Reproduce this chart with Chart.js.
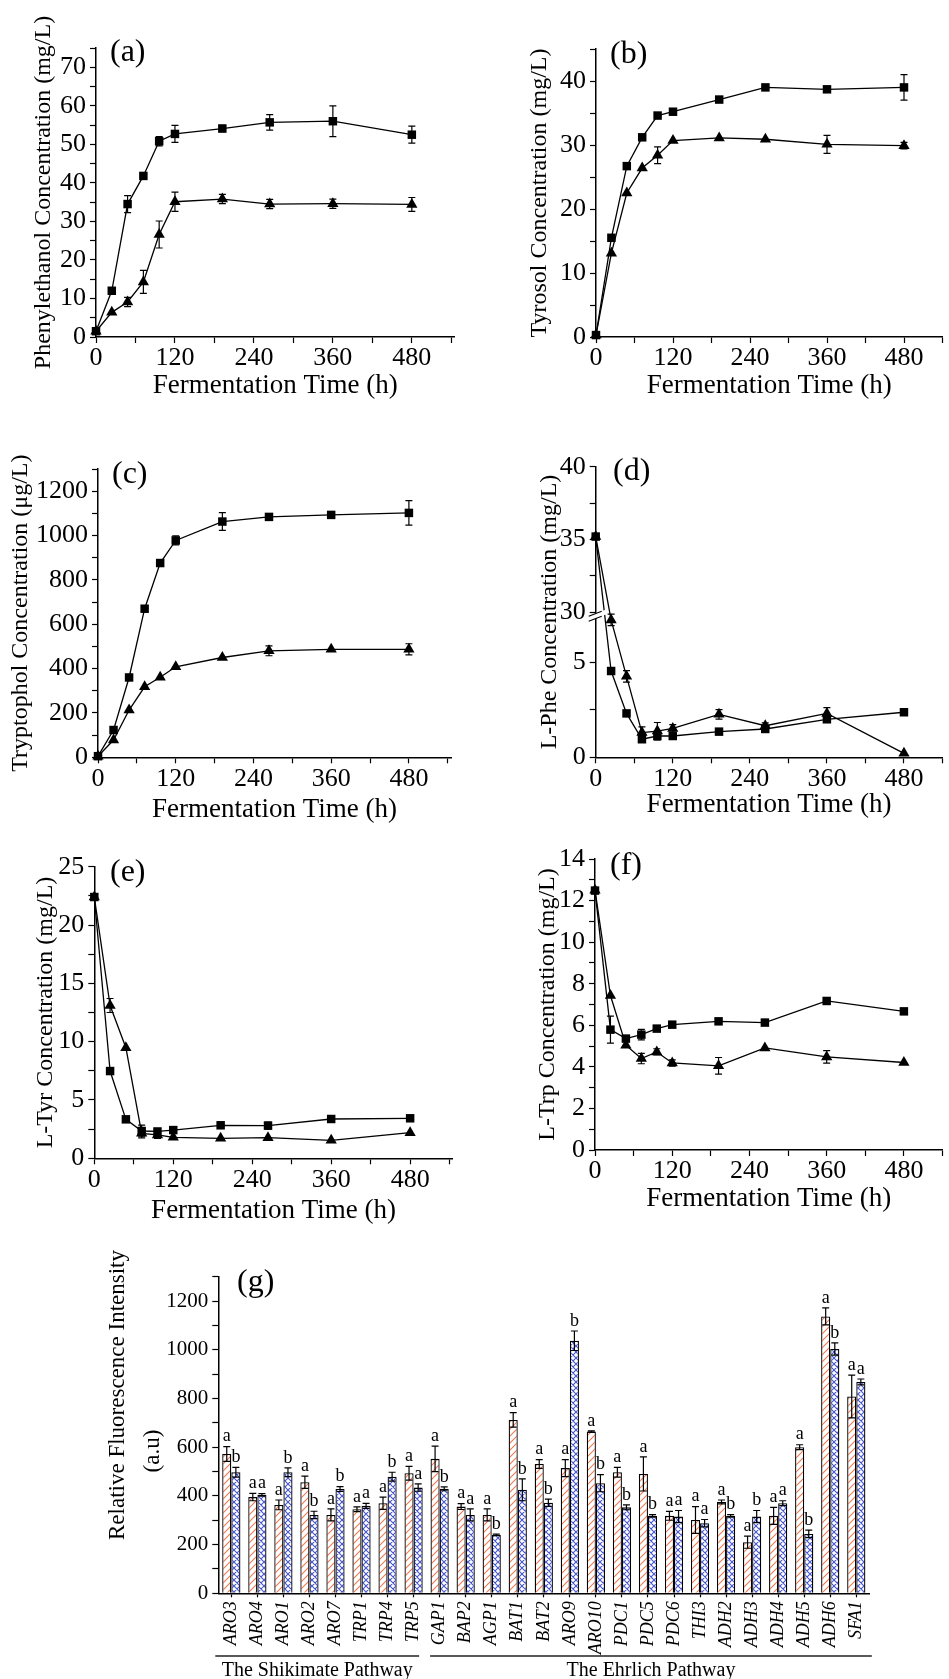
<!DOCTYPE html>
<html>
<head>
<meta charset="utf-8">
<script src="https://cdn.jsdelivr.net/npm/chart.js@4.4.1/dist/chart.umd.min.js"></script>
<style>
body { margin: 0; background: #fff; }
#wrap { position: relative; width: 949px; height: 1679px; overflow: hidden; background: #fff; }
canvas { position: absolute; }
</style>
</head>
<body>
<div id="wrap">
  <canvas id="pa"></canvas>
  <canvas id="pb"></canvas>
  <canvas id="pc"></canvas>
  <canvas id="pd"></canvas>
  <canvas id="pe"></canvas>
  <canvas id="pf"></canvas>
  <canvas id="pg"></canvas>
</div>
<script>
const FONT = "'Liberation Serif', 'Times New Roman', Times, serif";

// sampling times (h)
const hours = [0, 24, 48, 72, 96, 120, 192, 264, 360, 480];
const hourLabels = [0, 120, 240, 360, 480];

// (a) phenylethanol, mg/L
const pheolSquare = [1.5, 12.0, 34.5, 41.8, 50.8, 52.7, 54.1, 55.7, 56.0, 52.5];
const pheolSquareErr = [0, 0, 2.2, 0, 1.2, 2.2, 0.8, 2.0, 4.0, 2.2];
const pheolTriangle = [1.5, 6.4, 9.1, 14.3, 26.6, 35.1, 35.8, 34.5, 34.6, 34.4];
const pheolTriangleErr = [0, 0, 1.2, 3.0, 3.5, 2.5, 1.2, 1.2, 1.2, 1.8];

// (b) tyrosol, mg/L
const tyrosolSquare = [0.3, 15.5, 26.7, 31.2, 34.6, 35.2, 37.1, 39.0, 38.7, 39.0];
const tyrosolSquareErr = [0, 0, 0, 0, 0, 0, 0, 0, 0, 2.0];
const tyrosolTriangle = [0.3, 13.1, 22.5, 26.4, 28.4, 30.7, 31.1, 30.9, 30.1, 29.9];
const tyrosolTriangleErr = [0, 0, 0, 0, 1.3, 0, 0, 0, 1.4, 0.5];

// (c) tryptophol, ug/L
const tryptopholSquare = [5, 123, 360, 670, 876, 978, 1063, 1084, 1093, 1102];
const tryptopholSquareErr = [0, 0, 0, 0, 0, 20, 40, 0, 0, 55];
const tryptopholTriangle = [5, 78, 213, 318, 361, 408, 450, 480, 487, 487];
const tryptopholTriangleErr = [0, 0, 0, 0, 0, 0, 0, 22, 0, 25];

// (d) L-Phe, mg/L
const pheSquare = [35.2, 4.54, 2.31, 0.95, 1.12, 1.12, 1.35, 1.49, 2.0, 2.37];
const pheSquareErr = [0, 0, 0, 0.15, 0.2, 0, 0, 0, 0.15, 0];
const pheTriangle = [35.2, 7.23, 4.26, 1.3, 1.38, 1.52, 2.26, 1.66, 2.31, 0.21];
const pheTriangleErr = [0, 0.3, 0.3, 0.3, 0.45, 0.2, 0.25, 0.15, 0.3, 0];

// (e) L-Tyr, mg/L
const tyrSquare = [22.4, 7.48, 3.34, 2.34, 2.3, 2.42, 2.83, 2.8, 3.37, 3.43];
const tyrSquareErr = [0, 0, 0, 0.5, 0.2, 0, 0, 0.3, 0.3, 0];
const tyrTriangle = [22.4, 13.1, 9.48, 2.14, 2.0, 1.8, 1.71, 1.77, 1.54, 2.2];
const tyrTriangleErr = [0, 0.6, 0, 0.4, 0.3, 0, 0, 0, 0, 0];

// (f) L-Trp, mg/L
const trpSquare = [12.48, 5.79, 5.36, 5.55, 5.84, 6.03, 6.19, 6.13, 7.17, 6.67];
const trpSquareErr = [0, 0.65, 0, 0.25, 0, 0, 0, 0, 0, 0];
const trpTriangle = [12.5, 7.43, 5.04, 4.4, 4.72, 4.19, 4.05, 4.91, 4.48, 4.21];
const trpTriangleErr = [0, 0, 0, 0.25, 0.15, 0.15, 0.4, 0, 0.3, 0];

// (g) relative fluorescence intensity
const genes = ['ARO3', 'ARO4', 'ARO1', 'ARO2', 'ARO7', 'TRP1', 'TRP4', 'TRP5',
  'GAP1', 'BAP2', 'AGP1', 'BAT1', 'BAT2', 'ARO9', 'ARO10', 'PDC1', 'PDC5', 'PDC6',
  'THI3', 'ADH2', 'ADH3', 'ADH4', 'ADH5', 'ADH6', 'SFA1'];
const orangeVals = [572, 395, 363, 456, 322, 345, 370, 493, 552, 356, 322, 712, 531,
  514, 664, 497, 490, 318, 301, 375, 210, 318, 600, 1137, 808];
const orangeErr = [30, 15, 20, 25, 25, 10, 25, 28, 52, 12, 25, 30, 18, 35, 3, 20, 70,
  18, 55, 8, 25, 35, 10, 35, 88];
const blueVals = [497, 404, 497, 322, 428, 359, 479, 434, 429, 322, 240, 425, 372,
  1037, 452, 353, 318, 315, 288, 318, 315, 370, 244, 1003, 868];
const blueErr = [20, 5, 18, 15, 10, 10, 18, 15, 8, 25, 3, 45, 15, 40, 35, 10, 5, 25,
  15, 5, 25, 10, 15, 25, 12];
const orangeLetters = genes.map(() => 'a');
const blueLetters = ['b', 'a', 'b', 'b', 'b', 'a', 'b', 'a', 'b', 'a', 'b', 'b', 'b',
  'b', 'b', 'b', 'b', 'a', 'a', 'b', 'b', 'a', 'b', 'b', 'a'];
const intensityLabels = [0, 200, 400, 600, 800, 1000, 1200];
const pathways = [
  { text: 'The Shikimate Pathway', from: 0, to: 7, dl: -3, dr: -7.5 },
  { text: 'The Ehrlich Pathway', from: 8, to: 24, dl: 3.5, dr: 2.5 }
];

// (d) has a broken axis: 0..PHE_LOW below the break, 30..40 squeezed above it
const PHE_LOW = 7.63, PHE_UP = 30, PHE_SQUEEZE = 0.766;
function pheAxis(v) { return v < PHE_UP ? v : PHE_LOW + (v - PHE_UP) * PHE_SQUEEZE; }

function marks(max, step) {
  const m = [];
  for (let v = 0; v <= max + 1e-9; v += step) m.push(Math.round(v * 1000) / 1000);
  return m;
}

// error bars, letters, panel tags, axis break, pathway brackets
const decor = {
  id: 'decor',
  afterDatasetsDraw(chart) {
    const o = chart.options.plugins.decor;
    const ctx = chart.ctx, ys = chart.scales.y;
    ctx.save();
    ctx.strokeStyle = '#000';
    ctx.lineWidth = 1.2;
    chart.data.datasets.forEach((ds, i) => {
      chart.getDatasetMeta(i).data.forEach((el, j) => {
        const lo = ds.errLo[j], hi = ds.errHi[j];
        if (lo === hi) return;
        const y1 = ys.getPixelForValue(lo), y2 = ys.getPixelForValue(hi), c = 3.5;
        ctx.beginPath();
        ctx.moveTo(el.x, y1); ctx.lineTo(el.x, y2);
        ctx.moveTo(el.x - c, y1); ctx.lineTo(el.x + c, y1);
        ctx.moveTo(el.x - c, y2); ctx.lineTo(el.x + c, y2);
        ctx.stroke();
      });
    });
    ctx.fillStyle = '#000';
    ctx.font = '18px ' + FONT;
    ctx.textAlign = 'center';
    ctx.textBaseline = 'bottom';
    chart.data.datasets.forEach((ds, i) => {
      if (!ds.letters) return;
      chart.getDatasetMeta(i).data.forEach((el, j) => {
        ctx.fillText(ds.letters[j], el.x, ys.getPixelForValue(ds.errHi[j]) - 1);
      });
    });
    if (o.breakAt !== undefined) {
      const yb = ys.getPixelForValue(o.breakAt), ax = chart.chartArea.left;
      ctx.fillStyle = '#fff';
      ctx.beginPath();
      ctx.moveTo(ax - 7, yb + 4); ctx.lineTo(ax + 11, yb - 3);
      ctx.lineTo(ax + 11, yb + 2); ctx.lineTo(ax - 7, yb + 9);
      ctx.closePath(); ctx.fill();
      ctx.beginPath();
      ctx.moveTo(ax - 7, yb + 4); ctx.lineTo(ax + 6, yb - 1);
      ctx.moveTo(ax - 7, yb + 9); ctx.lineTo(ax + 6, yb + 4);
      ctx.stroke();
    }
    ctx.restore();
  },
  afterDraw(chart) {
    const o = chart.options.plugins.decor;
    const ctx = chart.ctx;
    ctx.save();
    ctx.fillStyle = '#000';
    if (o.letter) {
      ctx.font = '32px ' + FONT;
      ctx.textAlign = 'left';
      ctx.textBaseline = 'middle';
      ctx.fillText(o.letter, o.letterX, o.letterY);
    }
    if (o.titleLines) {
      ctx.font = o.titleFont;
      ctx.textAlign = 'center';
      ctx.textBaseline = 'middle';
      o.titleLines.forEach(t => {
        ctx.save();
        ctx.translate(t.x, t.y);
        ctx.rotate(-Math.PI / 2);
        ctx.fillText(t.text, 0, 0);
        ctx.restore();
      });
    }
    if (o.groups) {
      const xs = chart.scales.x;
      const half = (xs.getPixelForValue(1) - xs.getPixelForValue(0)) / 2;
      ctx.strokeStyle = '#222';
      ctx.lineWidth = 1.3;
      ctx.font = '20px ' + FONT;
      ctx.textAlign = 'center';
      ctx.textBaseline = 'alphabetic';
      o.groups.forEach(g => {
        const x1 = xs.getPixelForValue(g.from) - half + g.dl;
        const x2 = xs.getPixelForValue(g.to) + half + g.dr;
        ctx.beginPath(); ctx.moveTo(x1, o.lineY); ctx.lineTo(x2, o.lineY); ctx.stroke();
        ctx.fillText(g.text, (x1 + x2) / 2, o.textY);
      });
    }
    ctx.restore();
  }
};

function linePanel(p) {
  const boxY = Math.max(0, Math.round(p.area.top - 55));
  const boxH = Math.round(p.area.bottom + 75 - boxY);
  const cv = document.getElementById(p.id);
  cv.width = p.box.w; cv.height = boxH;
  cv.style.left = p.box.x + 'px'; cv.style.top = boxY + 'px';
  const map = p.map || (v => v);
  const looks = [{ pointStyle: 'rect', pointRadius: 6 }, { pointStyle: 'triangle', pointRadius: 6.5 }];
  const datasets = p.series.map(([vals, err], k) => Object.assign({
    data: hours.map((h, i) => ({ x: h, y: map(vals[i]) })),
    errLo: vals.map((v, i) => map(v - err[i])),
    errHi: vals.map((v, i) => map(v + err[i])),
    borderColor: '#000', borderWidth: 1.3, backgroundColor: '#000',
    pointBackgroundColor: '#000', pointBorderColor: '#000', pointBorderWidth: 0,
    tension: 0, clip: false
  }, looks[k]));
  const xMarks = marks(540, 60);
  new Chart(cv, {
    type: 'line',
    data: { datasets },
    plugins: [decor],
    options: {
      responsive: false, animation: false, events: [],
      layout: { padding: { left: 0, top: p.area.top - boxY, right: p.box.x + p.box.w - p.area.right, bottom: 0 } },
      plugins: {
        legend: { display: false }, tooltip: { enabled: false },
        decor: { letter: p.letter, letterX: p.letterAt[0] - p.box.x, letterY: p.letterAt[1] - boxY, breakAt: p.breakAt }
      },
      scales: {
        x: {
          type: 'linear', min: 0, max: p.xMax,
          afterBuildTicks: s => { s.ticks = xMarks.map(v => ({ value: v })); },
          afterFit: s => { s.height = boxY + boxH - p.area.bottom; },
          ticks: { callback: v => hourLabels.includes(v) ? String(v) : '', font: { family: FONT, size: 26 }, color: '#000', padding: 0, maxRotation: 0, autoSkip: false },
          grid: { drawOnChartArea: false, tickLength: 6, tickColor: '#000', tickWidth: 1.2 },
          border: { color: '#000', width: 1.5 },
          title: { display: true, text: 'Fermentation Time (h)', color: '#000', font: { family: FONT, size: 27 }, padding: { top: 0, bottom: boxY + boxH - p.xTitleY - 16.2 } }
        },
        y: {
          type: 'linear', min: 0, max: map(p.yMax),
          afterBuildTicks: s => { s.ticks = p.yMarks.map(v => ({ value: map(v) })); },
          afterFit: s => { s.width = p.area.left - p.box.x; },
          ticks: {
            callback: (v, idx) => p.yLabels.includes(p.yMarks[idx]) ? String(p.yMarks[idx]) : '',
            font: { family: FONT, size: 26 }, color: '#000', padding: 4, autoSkip: false
          },
          grid: { drawOnChartArea: false, tickLength: 6, tickColor: '#000', tickWidth: 1.2 },
          border: { color: '#000', width: 1.5 },
          title: { display: true, text: p.yTitle, color: '#000', font: { family: FONT, size: 24 }, padding: { top: p.yTitleX - p.box.x - 14.4, bottom: 0 } }
        }
      }
    }
  });
}

const LEFT = { x: 0, w: 475 }, RIGHT = { x: 475, w: 474 };
[
  { id: 'pa', box: LEFT, area: { left: 96, top: 48, right: 454.6, bottom: 337 }, xMax: 545,
    yMax: 75, yMarks: marks(75, 5), yLabels: [0, 10, 20, 30, 40, 50, 60, 70],
    yTitle: 'Phenylethanol Concentration (mg/L)', yTitleX: 44, xTitleY: 386, letter: '(a)', letterAt: [110, 53],
    series: [[pheolSquare, pheolSquareErr], [pheolTriangle, pheolTriangleErr]] },
  { id: 'pb', box: RIGHT, area: { left: 596, top: 49, right: 948.4, bottom: 337 }, xMax: 540,
    yMax: 45, yMarks: marks(45, 5), yLabels: [0, 10, 20, 30, 40],
    yTitle: 'Tyrosol Concentration (mg/L)', yTitleX: 540, xTitleY: 386, letter: '(b)', letterAt: [610, 55],
    series: [[tyrosolSquare, tyrosolSquareErr], [tyrosolTriangle, tyrosolTriangleErr]] },
  { id: 'pc', box: LEFT, area: { left: 98, top: 469, right: 451, bottom: 757.3 }, xMax: 545,
    yMax: 1300, yMarks: marks(1300, 100), yLabels: [0, 200, 400, 600, 800, 1000, 1200],
    yTitle: 'Tryptophol Concentration (\u03bcg/L)', yTitleX: 21, xTitleY: 809.5, letter: '(c)', letterAt: [112, 475],
    series: [[tryptopholSquare, tryptopholSquareErr], [tryptopholTriangle, tryptopholTriangleErr]] },
  { id: 'pd', box: RIGHT, area: { left: 595.7, top: 466.7, right: 948, bottom: 757.3 }, xMax: 540,
    yMax: 40, yMarks: [0, 2.5, 5, 30, 32.5, 35, 37.5, 40], yLabels: [0, 5, 30, 35, 40],
    map: pheAxis, breakAt: PHE_LOW,
    yTitle: 'L-Phe Concentration (mg/L)', yTitleX: 550, xTitleY: 804.5, letter: '(d)', letterAt: [613, 472],
    series: [[pheSquare, pheSquareErr], [pheTriangle, pheTriangleErr]] },
  { id: 'pe', box: LEFT, area: { left: 94.3, top: 866.7, right: 452.9, bottom: 1158.3 }, xMax: 545,
    yMax: 25, yMarks: marks(25, 2.5), yLabels: [0, 5, 10, 15, 20, 25],
    yTitle: 'L-Tyr Concentration (mg/L)', yTitleX: 46, xTitleY: 1210.5, letter: '(e)', letterAt: [110, 873],
    series: [[tyrSquare, tyrSquareErr], [tyrTriangle, tyrTriangleErr]] },
  { id: 'pf', box: RIGHT, area: { left: 595, top: 859, right: 948.5, bottom: 1150 }, xMax: 540,
    yMax: 14, yMarks: marks(14, 1), yLabels: [0, 2, 4, 6, 8, 10, 12, 14],
    yTitle: 'L-Trp Concentration (mg/L)', yTitleX: 548, xTitleY: 1198.7, letter: '(f)', letterAt: [610, 866],
    series: [[trpSquare, trpSquareErr], [trpTriangle, trpTriangleErr]] }
].forEach(linePanel);

// hatch fills for panel (g)
function hatch(color, size, cross) {
  const t = document.createElement('canvas');
  t.width = size; t.height = size;
  const g = t.getContext('2d');
  g.fillStyle = '#fff'; g.fillRect(0, 0, size, size);
  g.strokeStyle = color; g.lineWidth = 1.1;
  g.beginPath();
  g.moveTo(0, size); g.lineTo(size, 0);
  g.moveTo(-1, 1); g.lineTo(1, -1);
  g.moveTo(size - 1, size + 1); g.lineTo(size + 1, size - 1);
  if (cross) {
    g.moveTo(0, 0); g.lineTo(size, size);
    g.moveTo(size - 1, -1); g.lineTo(size + 1, 1);
    g.moveTo(-1, size - 1); g.lineTo(1, size + 1);
  }
  g.stroke();
  return g.createPattern(t, 'repeat');
}

(function barPanel() {
  const box = { x: 0, y: 1190, w: 949, h: 489 };
  const area = { left: 218.3, top: 1276.7, right: 869.3, bottom: 1593.3 };
  const cv = document.getElementById('pg');
  cv.width = box.w; cv.height = box.h;
  cv.style.left = box.x + 'px'; cv.style.top = box.y + 'px';
  const bar = (vals, err, letters, fill) => ({
    data: vals,
    errLo: vals.map((v, i) => v - err[i]),
    errHi: vals.map((v, i) => v + err[i]),
    letters,
    backgroundColor: fill, borderColor: '#000', borderWidth: 1.3,
    categoryPercentage: 0.7, barPercentage: 1
  });
  const yMarks = marks(1300, 100);
  new Chart(cv, {
    type: 'bar',
    data: {
      labels: genes,
      datasets: [
        bar(orangeVals, orangeErr, orangeLetters, hatch('rgb(240,120,80)', 7, false)),
        bar(blueVals, blueErr, blueLetters, hatch('rgb(70,85,210)', 6, true))
      ]
    },
    plugins: [decor],
    options: {
      responsive: false, animation: false, events: [],
      layout: { padding: { left: 0, top: area.top - box.y, right: box.x + box.w - area.right, bottom: 0 } },
      plugins: {
        legend: { display: false }, tooltip: { enabled: false },
        decor: {
          letter: '(g)', letterX: 237, letterY: 1283 - box.y,
          titleFont: '23px ' + FONT,
          titleLines: [
            { text: 'Relative Fluorescence Intensity', x: 118, y: 1395 - box.y },
            { text: '(a.u)', x: 153, y: 1451 - box.y }
          ],
          groups: pathways, lineY: 1656 - box.y, textY: 1676 - box.y
        }
      },
      scales: {
        x: {
          afterFit: s => { s.height = box.y + box.h - area.bottom; },
          ticks: { font: { family: FONT, size: 18, style: 'italic' }, color: '#000', minRotation: 90, maxRotation: 90, padding: 4, autoSkip: false },
          grid: { offset: false, drawOnChartArea: false, tickLength: 4, tickColor: '#000', tickWidth: 1.2 },
          border: { color: '#000', width: 1.5 }
        },
        y: {
          min: 0, max: 1300,
          afterBuildTicks: s => { s.ticks = yMarks.map(v => ({ value: v })); },
          afterFit: s => { s.width = area.left - box.x; },
          ticks: { callback: v => intensityLabels.includes(v) ? String(v) : '', font: { family: FONT, size: 21 }, color: '#000', padding: 4, autoSkip: false },
          grid: { drawOnChartArea: false, tickLength: 6, tickColor: '#000', tickWidth: 1.2 },
          border: { color: '#000', width: 1.5 }
        }
      }
    }
  });
})();
</script>
</body>
</html>
